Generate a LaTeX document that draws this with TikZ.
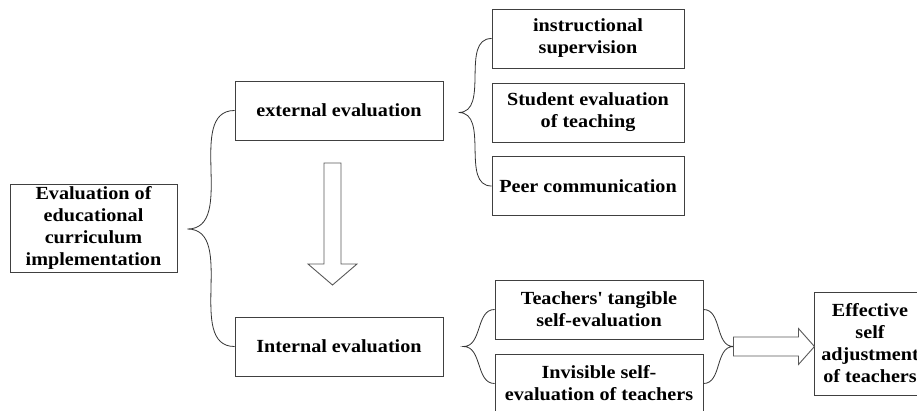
\documentclass[tikz,border=0pt]{standalone}
\usepackage{fontspec}
\setmainfont{Liberation Serif}[FakeStretch=1.09]
\usetikzlibrary{calc}

\tikzset{
  box/.style={draw=black!75, line width=0.9pt, align=center, inner sep=0pt,
    minimum width=208pt, minimum height=59pt,
    font=\fontsize{18.5}{22}\selectfont\bfseries},
  narrow/.style={box, minimum width=192pt},
  curly/.style={draw=black!80, line width=0.8pt},
  hollow/.style={draw=black!65, line width=0.9pt, fill=white}
}

\begin{document}
\begin{tikzpicture}[x=1pt, y=-1pt]
  \path[use as bounding box, fill=white] (0,0) rectangle (917,410);

  % main blocks
  \node[box, minimum width=167pt, minimum height=88pt] (root) at (93.5,228) {Evaluation of\\educational\\curriculum\\implementation};
  \node[box] (ext) at (339,110.5) {external evaluation};
  \node[box] (int) at (339,346.5) {Internal evaluation};

  % external side
  \node[narrow] (sup) at (588,38.5) {instructional\\supervision};
  \node[narrow] (stu) at (588,112.5) {Student evaluation\\of teaching};
  \node[narrow] (peer) at (588,186) {Peer communication};

  % internal side
  \node[box] (tang) at (599,309.5) {Teachers\textquotesingle{} tangible\\self-evaluation};
  \node[box] (invis) at (599,383.5) {Invisible self-\\evaluation of teachers};
  \node[box, minimum width=112pt, minimum height=103pt] (eff) at (870,343.5) {Effective\\self\\adjustment\\of teachers};

  % brace tips
  \coordinate (t1) at ($(root.east)+(10,1)$);
  \coordinate (t2) at ($(stu.west)+(-33,0)$);
  \coordinate (t3) at ($(int.east)+(20,0)$);
  \coordinate (t4) at ($(tang.east)!0.5!(invis.east)+(30,0)$);

  % braces
  \draw[curly] (ext.west) to[out=180,in=0] (t1) to[out=0,in=180] (int.west);
  \draw[curly] (sup.west) to[out=180,in=0] (t2) to[out=0,in=180] (peer.west);
  \draw[curly] (tang.west) to[out=180,in=0] (t3) to[out=0,in=180] (invis.west);
  \draw[curly] (tang.east) to[out=0,in=180] (t4) to[out=180,in=0] (invis.east);

  % block arrow down
  \coordinate (dtop) at (332.5,163);
  \draw[hollow] (dtop) ++(-8.5,0) -- ++(0,101) -- ++(-16,0) -- ++(24.5,21)
    -- ++(24.5,-21) -- ++(-16,0) -- ++(0,-101) -- cycle;

  % block arrow right
  \draw[hollow] (t4) ++(0,-9.5) -- ++(65,0) -- ++(0,-8.5) -- ++(16,18)
    -- ++(-16,18) -- ++(0,-8.5) -- ++(-65,0) -- cycle;
\end{tikzpicture}
\end{document}
